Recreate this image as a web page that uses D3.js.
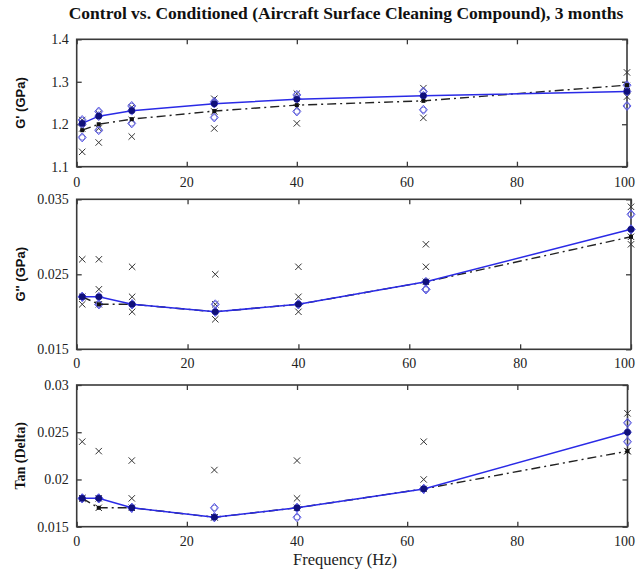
<!DOCTYPE html>
<html>
<head>
<meta charset="utf-8">
<script src="https://cdn.jsdelivr.net/npm/d3@7"></script>
<style>
  html, body { margin: 0; padding: 0; background: #fff; }
  svg { display: block; }
</style>
</head>
<body>
<svg id="chart" width="636" height="569"></svg>
<script>
// Test frequencies (Hz)
const freqs = [1, 4, 10, 25, 40, 63, 100];
const xTicks = [0, 20, 40, 60, 80, 100];

// Storage modulus G' (GPa)
const gpControlMean = [1.186, 1.200, 1.212, 1.231, 1.245, 1.255, 1.292];
const gpCondMean    = [1.202, 1.219, 1.232, 1.248, 1.259, 1.267, 1.277];
const gpControlSamples = [
  [1.135, 1.190, 1.210], [1.157, 1.190, 1.225], [1.171, 1.210, 1.240],
  [1.190, 1.230, 1.260], [1.202, 1.240, 1.272], [1.215, 1.260, 1.285],
  [1.322, 1.290, 1.265]
];
const gpCondSamples = [
  [1.169, 1.200, 1.210], [1.186, 1.219, 1.230], [1.202, 1.232, 1.243],
  [1.216, 1.249, 1.253], [1.230, 1.260, 1.269], [1.234, 1.267, 1.277],
  [1.243, 1.277, 1.292]
];
const gpTicks = [1.1, 1.2, 1.3, 1.4];

// Loss modulus G'' (GPa)
const gppControlMean = [0.022, 0.021, 0.021, 0.020, 0.021, 0.024, 0.030];
const gppCondMean    = [0.022, 0.022, 0.021, 0.020, 0.021, 0.024, 0.031];
const gppControlSamples = [
  [0.027, 0.022, 0.021], [0.027, 0.023, 0.021], [0.026, 0.022, 0.020],
  [0.025, 0.021, 0.019], [0.026, 0.022, 0.020], [0.029, 0.026, 0.024],
  [0.034, 0.030, 0.029]
];
const gppCondSamples = [
  [0.022, 0.022, 0.022], [0.022, 0.021, 0.021], [0.021, 0.021, 0.021],
  [0.021, 0.020, 0.020], [0.021, 0.021, 0.021], [0.024, 0.023, 0.023],
  [0.033, 0.031, 0.031]
];
const gppTicks = [0.015, 0.025, 0.035];

// Loss tangent
const tdControlMean = [0.018, 0.017, 0.017, 0.016, 0.017, 0.019, 0.023];
const tdCondMean    = [0.018, 0.018, 0.017, 0.016, 0.017, 0.019, 0.025];
const tdControlSamples = [
  [0.024, 0.018, 0.018], [0.023, 0.018, 0.017], [0.022, 0.018, 0.017],
  [0.021, 0.016, 0.016], [0.022, 0.018, 0.017], [0.024, 0.020, 0.019],
  [0.027, 0.023, 0.023]
];
const tdCondSamples = [
  [0.018, 0.018, 0.018], [0.018, 0.018, 0.018], [0.017, 0.017, 0.017],
  [0.017, 0.016, 0.016], [0.017, 0.016, 0.017], [0.019, 0.019, 0.019],
  [0.026, 0.025, 0.024]
];
const tdTicks = [0.015, 0.02, 0.025, 0.03];

const titleText = "Control vs. Conditioned (Aircraft Surface Cleaning Compound), 3 months";
const xTitle = "Frequency (Hz)";

const panels = [
  { yLabel: "G' (GPa)", labelFont: "bold 13px 'Liberation Sans', Arial, sans-serif",
    domain: [1.1, 1.4], ticks: gpTicks, fmt: d3.format(".1f"),
    ctrlMean: gpControlMean, condMean: gpCondMean,
    ctrlS: gpControlSamples, condS: gpCondSamples,
    box: { left: 76.7, right: 627, top: 39.3, bottom: 166.7 }, xLabelY: 187 },
  { yLabel: "G'' (GPa)", labelFont: "bold 13px 'Liberation Sans', Arial, sans-serif",
    domain: [0.015, 0.035], ticks: gppTicks, fmt: d3.format(".3f"),
    ctrlMean: gppControlMean, condMean: gppCondMean,
    ctrlS: gppControlSamples, condS: gppCondSamples,
    box: { left: 76.7, right: 631, top: 199.3, bottom: 349.3 }, xLabelY: 368 },
  { yLabel: "Tan (Delta)", labelFont: "bold 14px 'Liberation Serif', 'Times New Roman', serif",
    domain: [0.015, 0.03], ticks: tdTicks, fmt: d => d3.format(".3~f")(d),
    ctrlMean: tdControlMean, condMean: tdCondMean,
    ctrlS: tdControlSamples, condS: tdCondSamples,
    box: { left: 76.7, right: 627.5, top: 385, bottom: 526.7 }, xLabelY: 546 }
];

const svg = d3.select("#chart");
const W = +svg.attr("width");
const serif = "'Liberation Serif', 'Times New Roman', serif";
const frameColor = "#3a3a3a";
const blue = "#2a2ae6";
const tickLen = 5;

svg.append("text")
  .attr("x", 346).attr("y", 19)
  .attr("text-anchor", "middle")
  .style("font", `bold 17.5px ${serif}`)
  .attr("fill", "#111")
  .text(titleText);

panels.forEach(p => {
  const b = p.box;
  const x = d3.scaleLinear().domain([0, 100]).range([b.left, b.right]);
  const y = d3.scaleLinear().domain(p.domain).range([b.bottom, b.top]);
  const g = svg.append("g");

  // inward ticks on all four sides
  const bottomAxis = d3.axisBottom(x).tickValues(xTicks).tickSize(-tickLen).tickFormat("");
  const topAxis = d3.axisTop(x).tickValues(xTicks).tickSize(-tickLen).tickFormat("");
  const leftAxis = d3.axisLeft(y).tickValues(p.ticks).tickSize(-tickLen).tickFormat("");
  const rightAxis = d3.axisRight(y).tickValues(p.ticks).tickSize(-tickLen).tickFormat("");
  [[bottomAxis, `translate(0,${b.bottom})`], [topAxis, `translate(0,${b.top})`],
   [leftAxis, `translate(${b.left},0)`], [rightAxis, `translate(${b.right},0)`]]
    .forEach(([ax, tr]) => {
      const a = g.append("g").attr("transform", tr).call(ax);
      a.select(".domain").remove();
      a.selectAll(".tick line").attr("stroke", frameColor).attr("stroke-width", 1.3);
    });

  // frame
  g.append("rect")
    .attr("x", b.left).attr("y", b.top)
    .attr("width", b.right - b.left).attr("height", b.bottom - b.top)
    .attr("fill", "none").attr("stroke", frameColor).attr("stroke-width", 1.6);

  // tick labels (the last one is kept inside the page edge)
  g.selectAll(".xl").data(xTicks).enter().append("text")
    .attr("x", d => d === 100 ? Math.min(x(d) + 11, W - 1) : x(d))
    .attr("y", p.xLabelY)
    .attr("text-anchor", d => d === 100 ? "end" : "middle")
    .style("font", `14px ${serif}`).attr("fill", "#222")
    .text(d => d);
  g.selectAll(".yl").data(p.ticks).enter().append("text")
    .attr("x", b.left - 8).attr("y", d => y(d) + 5)
    .attr("text-anchor", "end")
    .style("font", `14px ${serif}`).attr("fill", "#222")
    .text(p.fmt);

  // y title
  g.append("text")
    .attr("transform", `translate(20,${(b.top + b.bottom) / 2}) rotate(-90)`)
    .attr("text-anchor", "middle")
    .attr("dominant-baseline", "central")
    .style("font", p.labelFont).attr("fill", "#111")
    .text(p.yLabel);

  const line = d3.line().x((d, i) => x(freqs[i])).y(d => y(d));

  // individual control specimens: x markers
  const ctrlPts = p.ctrlS.flatMap((arr, i) => arr.map(v => ({ f: freqs[i], v })));
  g.selectAll(".cx").data(ctrlPts).enter().append("path")
    .attr("transform", d => `translate(${x(d.f)},${y(d.v)})`)
    .attr("d", "M-3.2,-3.2L3.2,3.2M-3.2,3.2L3.2,-3.2")
    .attr("stroke", "#333").attr("stroke-width", 1).attr("fill", "none");

  // individual conditioned specimens: diamonds and circles
  const condPts = p.condS.flatMap((arr, i) => arr.map((v, k) => ({ f: freqs[i], v, k })));
  g.selectAll(".cd").data(condPts).enter().append("path")
    .attr("transform", d => `translate(${x(d.f)},${y(d.v)})`)
    .attr("d", "M0,-4.5L4,0L0,4.5L-4,0Z")
    .attr("stroke", "#5a5ae8").attr("stroke-width", 1).attr("fill", "none");
  g.selectAll(".cc").data(condPts).enter().append("circle")
    .attr("cx", d => x(d.f)).attr("cy", d => y(d.v)).attr("r", 2.8)
    .attr("stroke", "#6a6ad8").attr("stroke-width", 1).attr("fill", "none");

  // control mean: dash-dot line with small squares
  g.append("path").datum(p.ctrlMean)
    .attr("d", line).attr("fill", "none")
    .attr("stroke", "#222").attr("stroke-width", 1.4)
    .attr("stroke-dasharray", "9,4,2,4");
  g.selectAll(".cm").data(p.ctrlMean).enter().append("rect")
    .attr("x", (d, i) => x(freqs[i]) - 2).attr("y", d => y(d) - 2)
    .attr("width", 4).attr("height", 4).attr("fill", "#111");

  // conditioned mean: solid blue line with filled circles
  g.append("path").datum(p.condMean)
    .attr("d", line).attr("fill", "none")
    .attr("stroke", blue).attr("stroke-width", 1.5);
  g.selectAll(".dm").data(p.condMean).enter().append("circle")
    .attr("cx", (d, i) => x(freqs[i])).attr("cy", d => y(d)).attr("r", 3.3)
    .attr("fill", "#10107a");
});

svg.append("text")
  .attr("x", 345).attr("y", 565)
  .attr("text-anchor", "middle")
  .style("font", `16.5px ${serif}`).attr("fill", "#222")
  .text(xTitle);
</script>
</body>
</html>
